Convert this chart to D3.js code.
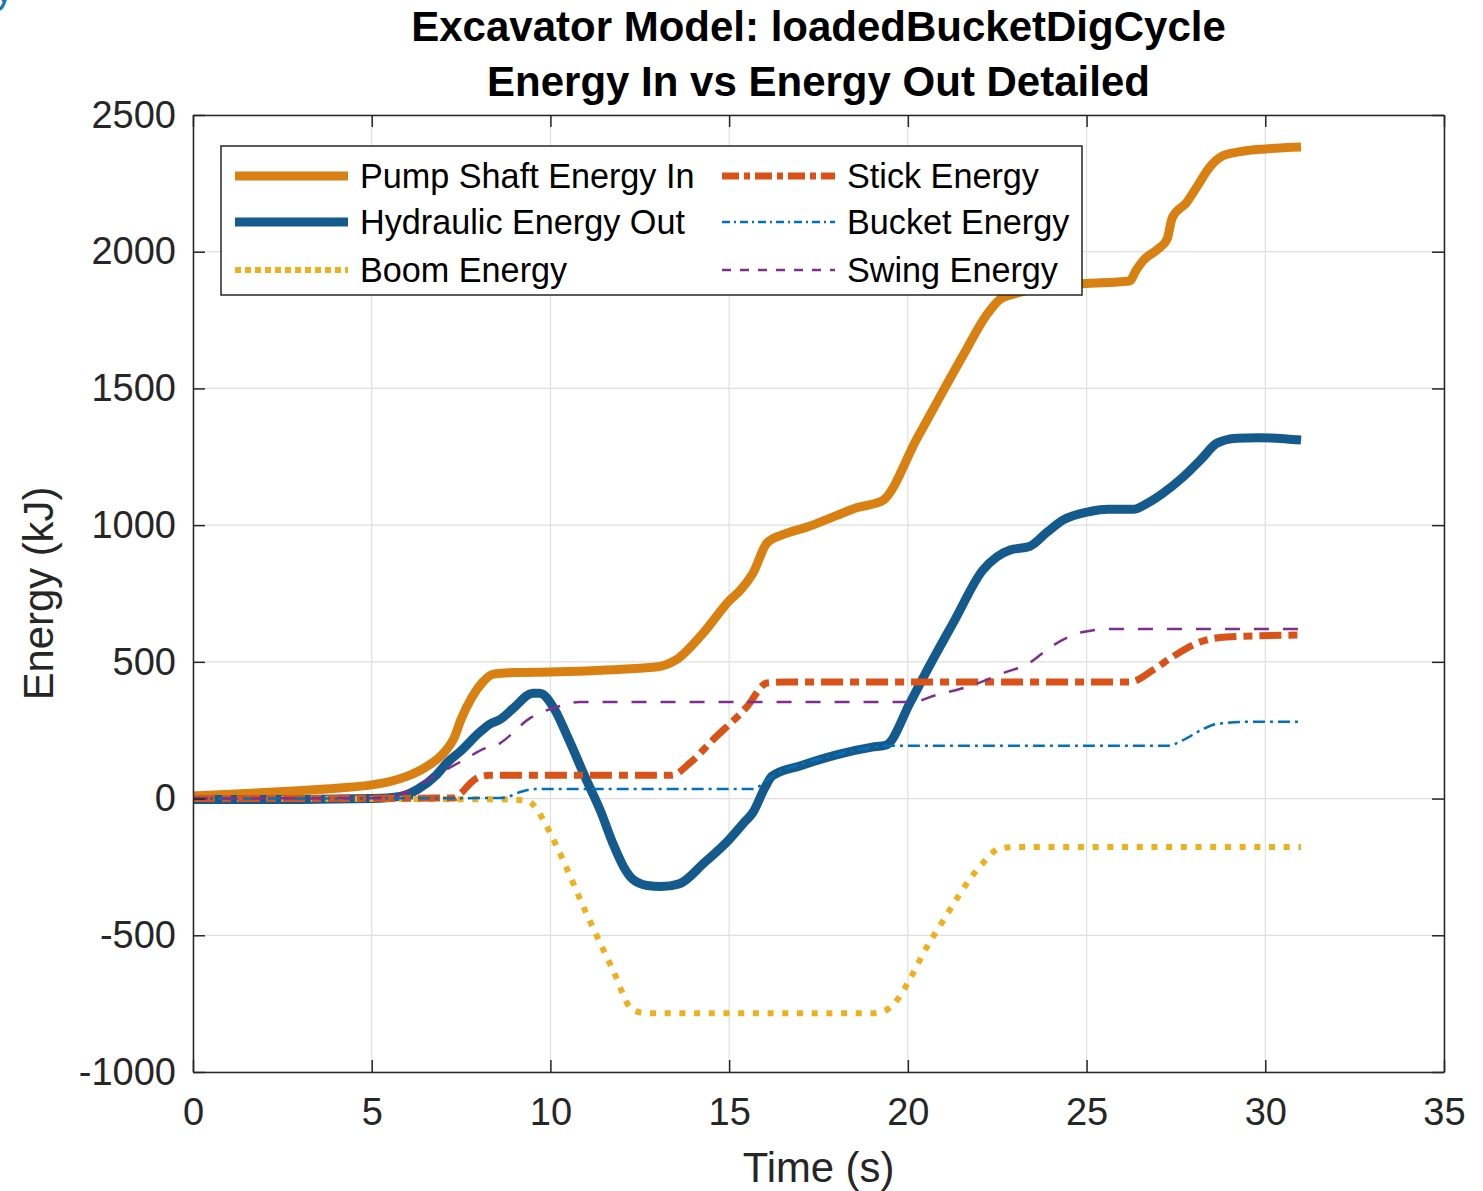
<!DOCTYPE html>
<html>
<head>
<meta charset="utf-8">
<script src="https://cdn.jsdelivr.net/npm/d3@7"></script>
<style>
  body { margin: 0; background: #fff; }
  text { font-family: "Liberation Sans", Arial, Helvetica, sans-serif; }
</style>
</head>
<body>
<div id="root"></div>
<script>
// tick values
const xTicks = [0, 5, 10, 15, 20, 25, 30, 35];
const yTicks = [-1000, -500, 0, 500, 1000, 1500, 2000, 2500];

// series: [time (s), energy (kJ)]
const pumpShaft = [[0,10],[2,22],[4,38],[5,50],[5.5,62],[6,82],[6.5,114],[7,165],[7.3,220],[7.5,290],[7.8,370],[8.1,425],[8.4,455],[9,461],[10,463],[11,467],[12,473],[13,482],[13.5,506],[14.27,605],[15.02,726],[15.3,760],[15.67,825],[16.06,935],[16.5,965],[17.2,994],[18,1035],[18.6,1065],[19.05,1078],[19.3,1090],[20.26,1318],[20.9,1470],[21.55,1622],[22.2,1768],[22.6,1828],[23.1,1850],[24,1876],[25,1884],[26.2,1893],[26.4,1935],[26.6,1970],[27,2010],[27.25,2045],[27.4,2125],[27.8,2180],[28.1,2240],[28.45,2310],[28.8,2350],[29.3,2366],[30,2376],[31,2383]];
const hydraulicOut = [[0,-3],[3,-3],[5,0],[5.8,8],[6.3,35],[6.8,85],[7.1,130],[7.5,175],[8,240],[8.3,272],[8.6,290],[9,335],[9.5,385],[9.7,385],[10.1,330],[10.5,220],[11,70],[11.4,-45],[11.75,-165],[12.05,-250],[12.3,-295],[12.7,-318],[13.1,-322],[13.6,-312],[14.3,-235],[15,-150],[15.4,-90],[15.67,-50],[16,40],[16.2,82],[17,120],[18,160],[19,188],[19.4,196],[20.06,350],[20.5,460],[21.3,650],[22.1,836],[22.5,885],[22.86,909],[23.4,922],[23.9,975],[24.35,1019],[25.1,1050],[25.6,1058],[26.3,1058],[26.7,1080],[27.15,1118],[27.7,1176],[28.2,1240],[28.65,1300],[29.2,1318],[29.8,1320],[31,1311]];
const boomEnergy = [[0,0],[8.8,-3],[9.34,-8],[9.6,-35],[9.8,-78],[10.18,-176],[11,-418],[11.75,-627],[12.3,-773],[12.7,-785],[19,-785],[19.4,-773],[20.7,-506],[22.1,-236],[22.58,-181],[23.05,-177],[31,-177]];
const stickEnergy = [[0,0],[7.3,2],[7.5,20],[7.75,55],[8,78],[8.3,85],[13.4,85],[13.9,130],[14.55,215],[15.5,336],[16.06,423],[16.5,426],[26.2,426],[26.86,470],[27.4,518],[28.1,569],[28.9,591],[31,598]];
const bucketEnergy = [[0,0],[8.6,2],[8.8,6],[9.15,24],[9.6,35],[15.67,35],[16.06,68],[16.4,97],[17,125],[18,160],[19,188],[19.4,193],[27.25,193],[27.7,214],[28.2,250],[28.65,273],[29.6,281],[31,281]];
const swingEnergy = [[0,0],[5.5,3],[5.96,24],[6.7,78],[7.56,140],[8.2,185],[8.5,195],[8.6,203],[9.43,294],[10.18,335],[10.8,353],[20.1,353],[20.8,379],[21.65,408],[22.67,459],[23.4,496],[24,555],[24.9,609],[25.66,620],[31,620]];

const seriesNames = ["Pump Shaft Energy In", "Hydraulic Energy Out", "Boom Energy", "Stick Energy", "Bucket Energy", "Swing Energy"];

var series = [
  { name: seriesNames[0], data: pumpShaft,    color: "#d98012", width: 9,   dash: null,        legDash: null },
  { name: seriesNames[1], data: hydraulicOut, color: "#155a8c", width: 9,   dash: null,        legDash: null },
  { name: seriesNames[2], data: boomEnergy,   color: "#edb120", width: 6,   dash: "6,8.7",     legDash: "6,4" },
  { name: seriesNames[3], data: stickEnergy,  color: "#d95319", width: 7,   dash: "22,7,9,7",  legDash: "17,5,6,5" },
  { name: seriesNames[4], data: bucketEnergy, color: "#0072bd", width: 2.5, dash: "12,5,3,5",  legDash: "8,4,2,4" },
  { name: seriesNames[5], data: swingEnergy,  color: "#7e2f8e", width: 2.5, dash: "15,14",     legDash: "9,9" }
];

var W = 1483, H = 1191;
var margin = { top: 115, right: 39, bottom: 119, left: 193 };
var width = W - margin.left - margin.right;
var height = H - margin.top - margin.bottom;

var svg = d3.select("#root")
  .append("svg")
  .attr("width", W)
  .attr("height", H);

// cropped fragment of a blue glyph at the top-left corner
svg.append("text")
  .attr("x", -6)
  .attr("y", 3)
  .attr("fill", "#1577b8")
  .style("font-size", "40px")
  .text("y");

var graph = svg.append("g")
  .attr("transform", "translate(" + margin.left + "," + margin.top + ")");

var x = d3.scaleLinear().domain([0, 35]).range([0, width]);
var y = d3.scaleLinear().domain([-1000, 2500]).range([height, 0]);

// grid
graph.append("g")
  .selectAll("line")
  .data(xTicks)
  .join("line")
  .attr("x1", d => x(d)).attr("x2", d => x(d))
  .attr("y1", 0).attr("y2", height)
  .attr("stroke", "#dfdfdf").attr("stroke-width", 1.2);

graph.append("g")
  .selectAll("line")
  .data(yTicks)
  .join("line")
  .attr("y1", d => y(d)).attr("y2", d => y(d))
  .attr("x1", 0).attr("x2", width)
  .attr("stroke", "#dfdfdf").attr("stroke-width", 1.2);

// data lines
var line = d3.line()
  .x(d => x(d[0]))
  .y(d => y(d[1]))
  .curve(d3.curveMonotoneX);

graph.append("defs").append("clipPath")
  .attr("id", "clip")
  .append("rect")
  .attr("width", width)
  .attr("height", height);

series.forEach(s => {
  graph.append("path")
    .datum(s.data)
    .attr("fill", "none")
    .attr("stroke", s.color)
    .attr("stroke-width", s.width)
    .attr("stroke-dasharray", s.dash)
    .attr("stroke-linejoin", "round")
    .attr("clip-path", "url(#clip)")
    .attr("d", line);
});

// axes (MATLAB style box, ticks inside on every side)
var tickLen = 12;
var axisColor = "#262626";
var fmt = d => String(d);

var xAxis = graph.append("g")
  .attr("transform", "translate(0," + height + ")")
  .call(d3.axisBottom(x).tickValues(xTicks).tickFormat(fmt).tickSizeInner(-tickLen).tickSizeOuter(0).tickPadding(26));
var xAxisTop = graph.append("g")
  .call(d3.axisTop(x).tickValues(xTicks).tickSizeInner(-tickLen).tickSizeOuter(0).tickFormat(""));
var yAxis = graph.append("g")
  .call(d3.axisLeft(y).tickValues(yTicks).tickFormat(fmt).tickSizeInner(-tickLen).tickSizeOuter(0).tickPadding(17));
var yAxisRight = graph.append("g")
  .attr("transform", "translate(" + width + ",0)")
  .call(d3.axisRight(y).tickValues(yTicks).tickSizeInner(-tickLen).tickSizeOuter(0).tickFormat(""));

[xAxis, xAxisTop, yAxis, yAxisRight].forEach(a => {
  a.select(".domain").attr("stroke", axisColor).attr("stroke-width", 1.5);
  a.selectAll(".tick line").attr("stroke", axisColor).attr("stroke-width", 1.5);
  a.selectAll(".tick text")
    .attr("fill", axisColor)
    .style("font-size", "38px")
    .style("font-family", "'Liberation Sans', Arial, sans-serif");
});
xAxis.selectAll(".tick text").attr("dy", "0.71em");

// title
graph.append("text")
  .attr("x", width / 2)
  .attr("y", 41 - margin.top)
  .attr("text-anchor", "middle")
  .style("font-size", "42px")
  .style("font-weight", "bold")
  .attr("fill", "#000")
  .text("Excavator Model: loadedBucketDigCycle");

graph.append("text")
  .attr("x", width / 2)
  .attr("y", 96 - margin.top)
  .attr("text-anchor", "middle")
  .style("font-size", "42px")
  .style("font-weight", "bold")
  .attr("fill", "#000")
  .text("Energy In vs Energy Out Detailed");

// axis labels
graph.append("text")
  .attr("x", width / 2)
  .attr("y", height + 110)
  .attr("text-anchor", "middle")
  .attr("fill", axisColor)
  .style("font-size", "41.8px")
  .text("Time (s)");

graph.append("text")
  .attr("transform", "rotate(-90)")
  .attr("x", -(height / 2))
  .attr("y", -140)
  .attr("text-anchor", "middle")
  .attr("fill", axisColor)
  .style("font-size", "41.8px")
  .text("Energy (kJ)");

// legend
var legend = graph.append("g")
  .attr("transform", "translate(" + (221 - margin.left) + "," + (146 - margin.top) + ")");

legend.append("rect")
  .attr("width", 861)
  .attr("height", 149)
  .attr("fill", "#fff")
  .attr("stroke", axisColor)
  .attr("stroke-width", 1.5);

var colX = [14, 501];
var rowY = [30, 76, 124];

series.forEach((s, i) => {
  var col = Math.floor(i / 3), row = i % 3;
  var lx = colX[col], ly = rowY[row];
  legend.append("line")
    .attr("x1", lx).attr("x2", lx + 113)
    .attr("y1", ly).attr("y2", ly)
    .attr("stroke", s.color)
    .attr("stroke-width", s.width)
    .attr("stroke-dasharray", s.legDash);
  legend.append("text")
    .attr("x", lx + 125)
    .attr("y", ly)
    .attr("dy", "0.35em")
    .attr("fill", "#000")
    .style("font-size", "34.2px")
    .text(s.name);
});
</script>
</body>
</html>
